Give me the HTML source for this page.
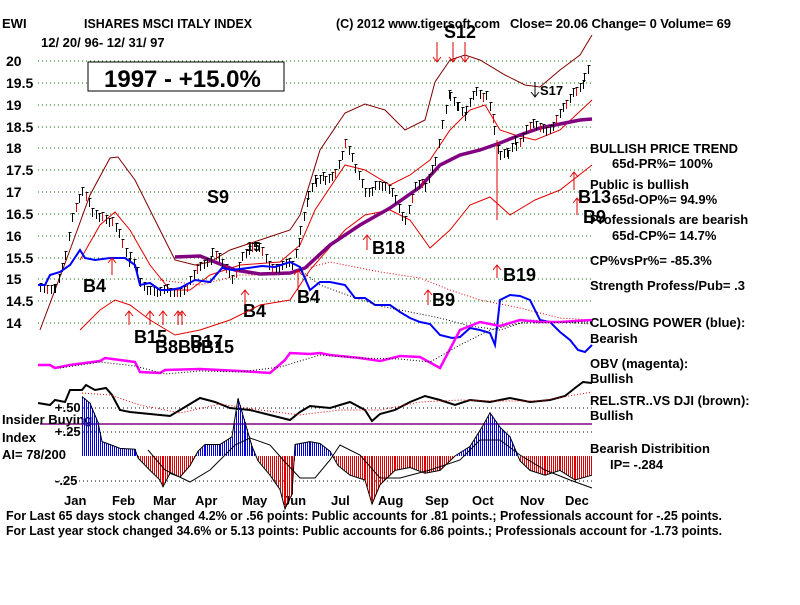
<!DOCTYPE html>
<html><head><meta charset="utf-8"><style>
body{margin:0;background:#fff;width:800px;height:600px;overflow:hidden}
svg text{font-family:"Liberation Sans",Arial,sans-serif;font-weight:bold}
</style></head><body>
<svg id="s" width="800" height="600" xmlns="http://www.w3.org/2000/svg">
<g stroke="#007000" stroke-dasharray="1,3" stroke-width="1">
<line x1="38" y1="61" x2="592" y2="61"/><line x1="38" y1="83" x2="592" y2="83"/>
<line x1="38" y1="105" x2="592" y2="105"/><line x1="38" y1="127" x2="592" y2="127"/>
<line x1="38" y1="148" x2="592" y2="148"/><line x1="38" y1="170" x2="592" y2="170"/>
<line x1="38" y1="192" x2="592" y2="192"/><line x1="38" y1="214" x2="592" y2="214"/>
<line x1="38" y1="236" x2="592" y2="236"/><line x1="38" y1="258" x2="592" y2="258"/>
<line x1="38" y1="279" x2="592" y2="279"/><line x1="38" y1="301" x2="592" y2="301"/>
<line x1="38" y1="323" x2="592" y2="323"/>
</g>
<g stroke="#000" stroke-dasharray="1,3"><line x1="55" y1="408" x2="592" y2="408"/><line x1="55" y1="432" x2="592" y2="432"/><line x1="55" y1="481" x2="592" y2="481"/></g>
<line x1="40" y1="424" x2="592" y2="424" stroke="#800080" stroke-width="1.5"/>
<g font-size="14" fill="#000">
<text x="6" y="66">20</text><text x="6" y="88">19.5</text><text x="6" y="110">19</text><text x="6" y="132">18.5</text><text x="6" y="153">18</text><text x="6" y="175">17.5</text><text x="6" y="197">17</text><text x="6" y="219">16.5</text><text x="6" y="241">16</text><text x="6" y="263">15.5</text><text x="6" y="284">15</text><text x="6" y="306">14.5</text><text x="6" y="328">14</text>
</g>
<g font-size="13" fill="#000">
<text x="2" y="28">EWI</text><text x="84" y="28" textLength="168" lengthAdjust="spacingAndGlyphs">ISHARES MSCI ITALY INDEX</text><text x="336" y="28" textLength="164" lengthAdjust="spacingAndGlyphs">(C) 2012 www.tigersoft.com</text><text x="510" y="28" textLength="221" lengthAdjust="spacing">Close=  20.06  Change= 0 Volume= 69</text>
<text x="41" y="47">12/ 20/ 96- 12/ 31/ 97</text>
<text x="590" y="153">BULLISH PRICE TREND</text><text x="612" y="168">65d-PR%= 100%</text>
<text x="590" y="189">Public is bullish</text><text x="612" y="204">65d-OP%= 94.9%</text>
<text x="590" y="224">Professionals are bearish</text><text x="612" y="240">65d-CP%= 14.7%</text>
<text x="590" y="265">CP%vsPr%= -85.3%</text><text x="590" y="290">Strength Profess/Pub= .3</text>
<text x="590" y="327">CLOSING POWER (blue):</text><text x="590" y="343">Bearish</text>
<text x="590" y="368">OBV (magenta):</text><text x="590" y="383">Bullish</text>
<text x="590" y="405">REL.STR..VS DJI (brown):</text><text x="590" y="420">Bullish</text>
<text x="590" y="453">Bearish Distribition</text><text x="610" y="469">IP= -.284</text>
<text x="2" y="424">Insider Buying</text><text x="2" y="442">Index</text><text x="2" y="459">AI= 78/200</text>
<text x="55" y="412">+.50</text><text x="55" y="436">+.25</text><text x="55" y="485">-.25</text>
<text x="64" y="505">Jan</text><text x="112" y="505">Feb</text><text x="153" y="505">Mar</text><text x="195" y="505">Apr</text><text x="242" y="505">May</text><text x="283" y="505">Jun</text><text x="331" y="505">Jul</text><text x="378" y="505">Aug</text><text x="425" y="505">Sep</text><text x="472" y="505">Oct</text><text x="520" y="505">Nov</text><text x="565" y="505">Dec</text>
<text x="6" y="520" textLength="716" lengthAdjust="spacingAndGlyphs">For Last 65 days stock changed  4.2% or  .56 points:  Public accounts for  .81 points.;  Professionals account for -.25 points.</text>
<text x="6" y="535" textLength="716" lengthAdjust="spacingAndGlyphs">For Last year stock changed  34.6% or  5.13 points:  Public accounts for  6.86 points.;  Professionals account for -1.73 points.</text>
</g>
<rect x="88" y="62" width="196" height="29" fill="#fff" stroke="#000"/>
<text x="104" y="87" font-size="24">1997 - +15.0%</text>
<g font-size="18" fill="#000">
<text x="207" y="203">S9</text><text x="83" y="292">B4</text><text x="243" y="317">B4</text><text x="297" y="303">B4</text>
<text x="134" y="343">B15</text><text x="155" y="353">B8B8B15</text><text x="190" y="348">B17</text>
<text x="372" y="254">B18</text><text x="432" y="306">B9</text><text x="503" y="281">B19</text>
<text x="444" y="38">S12</text><text x="578" y="203">B13</text><text x="583" y="223">B9</text>
</g>
<text x="246" y="251" font-size="13" font-weight="bold">15</text>
<text x="540" y="95" font-size="13" font-weight="bold">S17</text>
<g id="g"></g>
</svg>
<script>
var S='http://www.w3.org/2000/svg',g=document.getElementById('g');
function el(t,a){var e=document.createElementNS(S,t);for(var k in a)e.setAttribute(k,a[k]);g.appendChild(e);return e}
function pl(p,c,w,d){el('polyline',{points:p,fill:'none',stroke:c,'stroke-width':w||1,'stroke-dasharray':d||''})}
function Y(p){return 61+(20-p)*43.67}
pl('40,330 70,250 90,195 110,158 118,157 135,180 160,230 175,260 195,265 210,262 230,250 260,240 290,230 300,215 320,150 345,113 365,104 385,110 405,130 425,120 435,82 450,60 465,55 480,60 505,75 525,85 540,87 560,70 580,55 592,35','#800000',1);
pl('80,260 100,225 115,212 130,230 150,265 170,290 190,290 210,275 240,265 280,262 300,245 315,210 345,165 365,170 390,185 410,175 430,160 450,130 470,110 485,105 500,130 515,135 535,140 560,130 592,100','#e00000',1);
pl('80,330 100,310 115,300 130,305 150,320 175,335 200,330 230,320 260,305 290,300 310,270 345,230 365,215 390,210 410,220 430,248 450,230 470,205 490,197 510,215 535,200 560,190 592,165','#e00000',1);
pl('160,280 200,285 240,275 280,275 300,270 330,262 380,272 420,278 450,290 480,300 520,308 560,318 592,320','#e00000',1,'1,2');
pl('175,257 200,256 215,262 235,270 260,274 290,273 305,268 330,245 360,225 390,208 420,187 440,165 460,155 480,150 500,143 520,135 540,128 560,124 580,120 592,119','#800080',3.5);
var P=[[40,14.9],[55,14.85],[65,15.6],[72,16.4],[82,16.9],[92,16.6],[102,16.5],[112,16.2],[122,15.8],[130,15.4],[140,15],[150,14.8],[160,14.6],[170,14.7],[180,14.8],[190,14.9],[200,15.2],[212,15.5],[222,15.3],[232,15.1],[242,15.5],[252,15.6],[262,15.7],[272,15.3],[282,15.2],[292,15.3],[300,16],[308,16.8],[316,17.2],[325,17.3],[335,17.5],[345,18],[355,17.5],[365,17.1],[375,17.1],[385,17],[395,16.9],[405,16.4],[415,17],[425,17.1],[435,17.8],[442,18.6],[450,19.3],[458,19],[466,18.8],[476,19.4],[486,19.2],[494,18.5],[500,17.7],[508,17.8],[516,18.1],[526,18.3],[536,18.5],[546,18.5],[556,18.6],[566,18.9],[576,19.4],[584,19.6],[590,20]];
for(var i=0;i<P.length-1;i++){var a=P[i],b=P[i+1];for(var x=a[0];x<b[0];x+=3.5){var p=a[1]+(b[1]-a[1])*(x-a[0])/(b[0]-a[0])+Math.sin(x*1.7)*0.12;var y=Math.round(Y(p));var xx=Math.round(x)+0.5;el('line',{x1:xx,y1:y-5,x2:xx,y2:y+4,stroke:(Math.sin(x*3.1)>0.85?'#e00000':'#000'),'stroke-width':1});el('line',{x1:xx-1,y1:y-4.5,x2:xx+2,y2:y-4.5,stroke:'#000'})}}
pl('38,285 45,285 50,275 60,272 70,265 80,250 85,258 95,260 110,258 125,258 135,265 140,285 150,283 160,290 170,290 180,288 195,280 210,282 222,268 232,270 248,268 262,266 275,267 290,262 300,267 310,290 320,282 330,282 345,285 355,298 365,298 375,305 390,305 400,312 410,318 420,322 430,324 440,335 452,338 460,337 470,328 480,330 490,333 495,345 500,300 510,295 520,296 530,300 540,320 550,322 560,332 570,340 578,350 585,352 592,345','#0000ff',2);
pl('300,270 320,285 350,296 380,306 410,312 440,318 470,326 500,330 530,320 560,322 592,324','#000',1,'1,2');
pl('38,365 50,365 55,368 70,365 100,361 105,358 135,362 140,372 160,373 165,370 200,369 240,371 270,373 285,360 290,353 310,354 320,353 330,355 360,358 380,361 400,356 420,357 440,368 460,330 480,322 500,326 520,320 540,322 560,322 592,320','#ff00ff',2.5);
pl('60,368 100,362 135,366 165,374 200,371 240,372 280,367 320,355 360,358 400,359 430,362 460,345 490,330 520,323 592,322','#000',1,'1,2');
pl('38,403 50,405 55,400 65,402 70,390 82,390 86,385 95,390 106,388 112,395 120,410 130,412 150,414 170,416 180,410 200,398 215,402 230,408 250,410 270,415 290,420 300,412 310,406 330,408 350,402 365,410 372,421 380,414 395,410 410,402 425,396 440,400 455,405 470,400 490,402 510,398 530,402 550,400 565,396 575,388 583,382 592,383','#000',2);
pl('82,393 110,395 140,405 180,413 220,404 260,410 300,415 340,410 380,410 420,402 460,400 500,401 540,401 592,392','#e00000',1,'1,2');
var A=[[82,0.62],[90,0.55],[98,0.35],[102,0.15],[110,0.12],[120,0.08],[135,0.07],[138,-0.02],[150,-0.15],[160,-0.25],[163,-0.32],[170,-0.18],[180,-0.22],[190,-0.1],[198,0.05],[205,0.12],[220,0.12],[232,0.2],[238,0.6],[245,0.35],[252,0.1],[258,-0.05],[270,-0.2],[280,-0.35],[285,-0.55],[292,-0.4],[295,0.12],[310,0.15],[320,0.13],[330,0.05],[338,-0.1],[350,-0.2],[365,-0.25],[372,-0.5],[380,-0.3],[395,-0.15],[410,-0.12],[425,-0.18],[440,-0.15],[455,0.0],[470,0.1],[482,0.3],[490,0.45],[500,0.3],[510,0.2],[520,-0.05],[530,-0.15],[545,-0.2],[560,-0.15],[575,-0.25],[592,-0.2]];
for(var i=0;i<A.length-1;i++){var a=A[i],b=A[i+1];for(var x=a[0];x<b[0];x+=2){var v=a[1]+(b[1]-a[1])*(x-a[0])/(b[0]-a[0]);el('line',{x1:x+0.5,y1:456,x2:x+0.5,y2:456-v*96,stroke:v>=0?'#0000e0':'#e00000','stroke-width':1})}}
el('polyline',{points:A.map(function(a){return a[0]+','+(456-a[1]*96)}).join(' '),fill:'none',stroke:'#000','stroke-width':1});
pl('148,450 165,470 190,482 210,470 235,445 250,438 270,445 285,462 300,478 315,478 330,460 340,445 360,455 380,478 400,478 430,470 460,460 480,440 500,440 520,455 545,470 570,480 592,488','#000',1);
function ar(x,y1,y2,c){el('line',{x1:x,y1:y1,x2:x,y2:y2,stroke:c});var d=y2<y1?5:-5;el('polyline',{points:(x-4)+','+(y2+d)+' '+x+','+y2+' '+(x+4)+','+(y2+d),fill:'none',stroke:c})}
[[129,325,311],[150,325,311],[163,325,311],[178,325,311],[182,325,311],[112,275,258],[245,305,290],[298,290,270],[367,250,235],[428,305,290],[497,278,265],[577,215,198],[574,190,172]].forEach(function(a){ar(a[0],a[1],a[2],'#e00000')});
[[437,42,62],[453,42,62],[465,42,62]].forEach(function(a){ar(a[0],a[1],a[2],'#e00000')});
ar(535,82,97,'#000');
el('line',{x1:497,y1:140,x2:497,y2:220,stroke:'#e00000'});
</script>
</body></html>
